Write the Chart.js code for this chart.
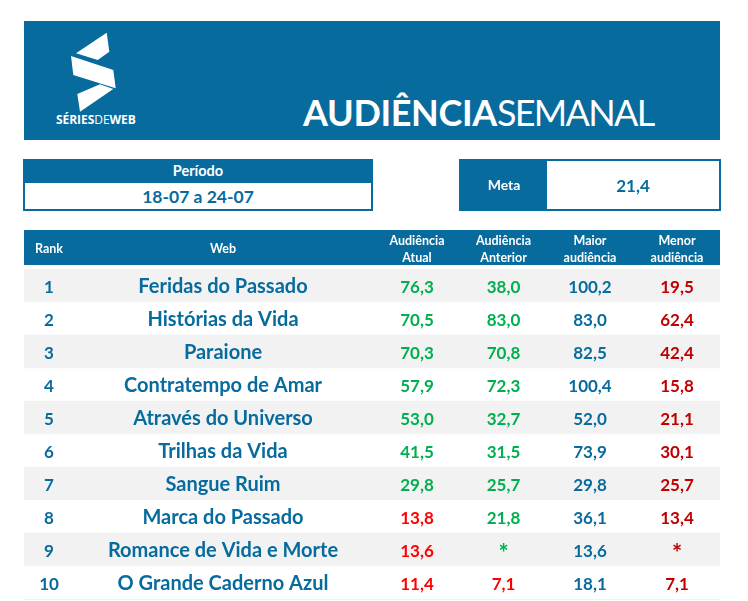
<!DOCTYPE html>
<html lang="pt-BR">
<head>
<meta charset="utf-8">
<title>Audiência Semanal</title>
<script src="https://cdn.jsdelivr.net/npm/chart.js@4/dist/chart.umd.min.js"></script>
<style>
  body { margin: 0; background: #fff; font-family: Lato, sans-serif; color: #076b9e; }
  #page { position: relative; width: 748px; height: 601px; overflow: hidden; }
  #page > div, #page > svg, #page > canvas { position: absolute; }
  #banner { left: 24px; top: 21px; width: 696px; height: 119px; background: #076b9e; }
  #logo { left: 0; top: 0; }
  #brand { left: 56px; top: 112px; width: 80px; color: #fff; font: 12px/16px "Open Sans", sans-serif; white-space: nowrap; letter-spacing: -0.05px; }
  #brand b { font-weight: 700; }
  #title { left: 303px; top: 90px; color: #fff; font: 400 36px/44px Lato, sans-serif; white-space: nowrap; letter-spacing: -1.7px; }
  #title b { font-weight: 700; letter-spacing: -0.35px; }
  .box { border: 2px solid #076b9e; box-sizing: border-box; background: #fff; text-align: center; font-weight: 700; }
  #periodo { left: 23px; top: 159px; width: 350px; height: 52px; }
  #periodo .head { background: #076b9e; color: #fff; height: 22px; font-size: 14.5px; line-height: 20px; }
  #periodo .val { font-size: 17.5px; line-height: 28px; }
  #meta { left: 459px; top: 159px; width: 262px; height: 52px; }
  #meta .head { position: absolute; left: 0; top: 0; width: 86px; height: 48px; background: #076b9e; color: #fff; font-size: 14px; line-height: 48px; }
  #meta .val { position: absolute; left: 86px; right: 0; top: 0; font-size: 17px; line-height: 49px; }
</style>
</head>
<body>
<div id="page">
  <canvas id="tabela" width="748" height="601"></canvas>
  <div id="banner"></div>
  <svg id="logo" width="748" height="140">
    <g fill="#fff">
      <polygon points="106.7,32.7 109.3,51.7 97.7,60 76,53.3"/>
      <polygon points="71,56 113.3,70 115.7,88.3 73.3,75"/>
      <polygon points="100,84.3 113.3,89 80,111.7 77.3,94"/>
    </g>
  </svg>
  <div id="brand"><b>SÉRIES</b>DE<b>WEB</b></div>
  <div id="title"><b>AUDIÊNCIA</b>SEMANAL</div>
  <div id="periodo" class="box"><div class="head">Período</div><div class="val">18-07 a 24-07</div></div>
  <div id="meta" class="box"><div class="head">Meta</div><div class="val">21,4</div></div>
</div>

<script>
const BLUE = '#076b9e', GREEN = '#00b050', RED = '#ff0000', DARK_RED = '#c00000';
const META = 21.4;

// rank, web, atual, anterior, maior, menor (null = sem dado, shown as *)
const ROWS = [
    [1,  'Feridas do Passado',       76.3, 38.0, 100.2, 19.5],
    [2,  'Histórias da Vida',        70.5, 83.0,  83.0, 62.4],
    [3,  'Paraione',                 70.3, 70.8,  82.5, 42.4],
    [4,  'Contratempo de Amar',      57.9, 72.3, 100.4, 15.8],
    [5,  'Através do Universo',      53.0, 32.7,  52.0, 21.1],
    [6,  'Trilhas da Vida',          41.5, 31.5,  73.9, 30.1],
    [7,  'Sangue Ruim',              29.8, 25.7,  29.8, 25.7],
    [8,  'Marca do Passado',         13.8, 21.8,  36.1, 13.4],
    [9,  'Romance de Vida e Morte',  13.6, null,  13.6, null],
    [10, 'O Grande Caderno Azul',    11.4,  7.1,  18.1,  7.1],
];

const fmt = v => v === null ? '*' : v.toLocaleString('pt-BR', { minimumFractionDigits: 1, maximumFractionDigits: 1 });
const metaColor = v => (v === null || v >= META) ? GREEN : RED;

// x is measured along the table, 0 to 696
const COLUMNS = [
    { head: 'Rank',                    center: 25,    font: 'bold 17px Lato', color: () => BLUE,     text: String, dy: 2 },
    { head: 'Web',                     center: 199,   font: 'bold 20px Lato', color: () => BLUE,     text: String, dy: 1 },
    { head: ['Audiência', 'Atual'],    center: 393,   font: 'bold 17px Lato', color: metaColor,      text: fmt, dy: 2 },
    { head: ['Audiência', 'Anterior'], center: 479.5, font: 'bold 17px Lato', color: metaColor,      text: fmt, dy: 2 },
    { head: ['Maior', 'audiência'],    center: 566,   font: 'bold 17px Lato', color: () => BLUE,     text: fmt, dy: 2 },
    { head: ['Menor', 'audiência'],    center: 653,   font: 'bold 17px Lato', color: () => DARK_RED, text: fmt, dy: 2 },
];

const RANKS = ROWS.map(r => String(r[0]));

// header strip and the closing rule under the last row
const tableChrome = {
    id: 'tableChrome',
    beforeDraw(chart) {
        const { ctx, scales: { x }, chartArea } = chart;
        ctx.save();
        ctx.fillStyle = BLUE;
        ctx.fillRect(x.left, x.top, x.width, x.height - 4);
        ctx.fillStyle = '#f2f2f2';
        ctx.fillRect(chartArea.left, chartArea.bottom, chartArea.width, 1);
        ctx.restore();
    },
};

// writes each cell at the position its point got from the scales
const cellText = {
    id: 'cellText',
    afterDatasetsDraw(chart) {
        const { ctx } = chart;
        ctx.save();
        ctx.textAlign = 'center';
        ctx.textBaseline = 'middle';
        chart.data.datasets.forEach((ds, i) => {
            if (ds.type !== 'scatter') return;
            const col = COLUMNS[ds.column];
            chart.getDatasetMeta(i).data.forEach((pt, j) => {
                const v = ROWS[j][ds.column];
                // the missing-value star sits larger and lower than the figures
                ctx.font = v === null ? 'bold 24px Lato' : col.font;
                ctx.fillStyle = col.color(v);
                ctx.fillText(col.text(v), pt.x, pt.y + col.dy + (v === null ? 3 : 0));
            });
        });
        ctx.restore();
    },
};

new Chart(document.getElementById('tabela').getContext('2d'), {
    data: {
        labels: RANKS,
        datasets: [
            {
                type: 'bar',
                label: 'Faixas',
                indexAxis: 'y',
                data: RANKS.map((_, i) => i % 2 === 0 ? [0, 696] : null),
                backgroundColor: '#f2f2f2',
                barPercentage: 1,
                categoryPercentage: 1,
                order: 2,
            },
            ...COLUMNS.map((col, c) => ({
                type: 'scatter',
                label: String(col.head),
                column: c,
                data: RANKS.map(rank => ({ x: col.center, y: rank })),
                pointRadius: 0,
                order: 1,
            })),
        ],
    },
    options: {
        responsive: false,
        animation: false,
        devicePixelRatio: 1,
        layout: { padding: { left: 24, right: 28, top: 230, bottom: 2 } },
        plugins: { legend: { display: false }, tooltip: { enabled: false } },
        scales: {
            x: {
                type: 'linear',
                position: 'top',
                min: 0,
                max: 696,
                grid: { display: false, drawTicks: false },
                border: { display: false },
                afterFit: s => { s.height = 39; },
                afterBuildTicks: s => { s.ticks = COLUMNS.map(c => ({ value: c.center })); },
                ticks: {
                    autoSkip: false,
                    maxRotation: 0,
                    padding: 11,
                    crossAlign: 'center',
                    color: '#fff',
                    font: { family: 'Lato', size: 12.5, weight: 'bold', lineHeight: 1.4 },
                    callback: v => COLUMNS.find(c => c.center === v).head,
                },
            },
            y: { type: 'category', display: false, offset: true },
        },
    },
    plugins: [tableChrome, cellText],
});
</script>
</body>
</html>
